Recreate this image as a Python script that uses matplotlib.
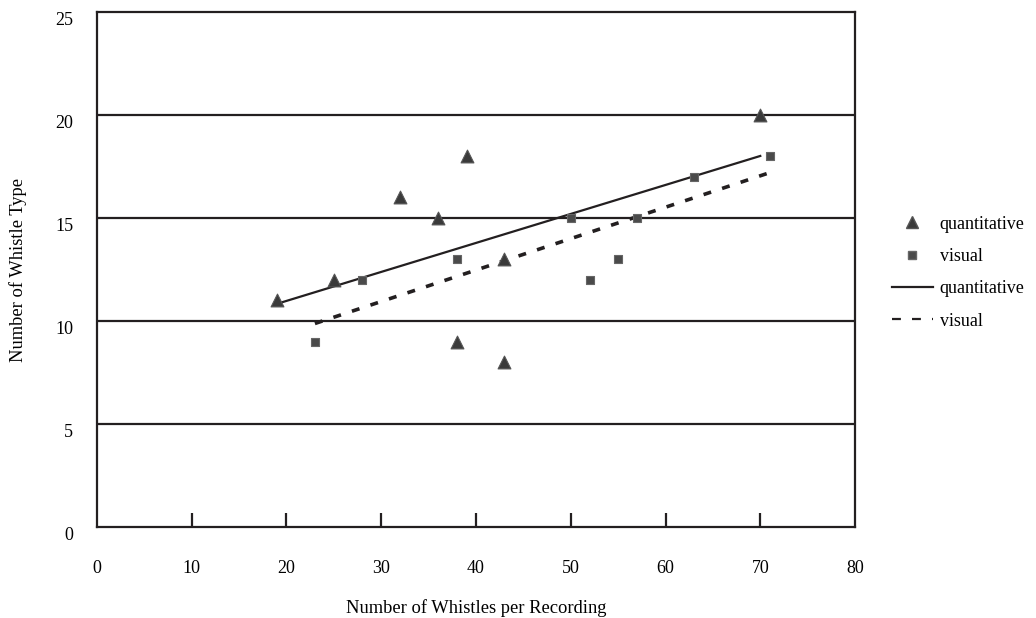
import numpy as np
import matplotlib
matplotlib.use('Agg')
import matplotlib.pyplot as plt
from matplotlib.lines import Line2D

plt.rcParams['font.family'] = ['Liberation Serif', 'DejaVu Serif']

# data
quant_x = [19, 25, 32, 36, 39, 38, 43, 43, 70]
quant_y = [11, 12, 16, 15, 18, 9, 8, 13, 20]
visual_x = [23, 28, 38, 50, 52, 55, 57, 63, 71]
visual_y = [9, 12, 13, 15, 12, 13, 15, 17, 18]

ink = '#231f20'

fig = plt.figure(figsize=(10.36, 6.18), dpi=100)
ax = fig.add_axes([0.0936, 0.1472, 0.7317, 0.8334])

for gy in [5, 10, 15, 20]:
    ax.axhline(gy, color=ink, lw=1.6, zorder=1)

# linear trend lines
qc = np.polyfit(quant_x, quant_y, 1)
vc = np.polyfit(visual_x, visual_y, 1)
qx = np.array([min(quant_x), max(quant_x)])
vx = np.array([min(visual_x), max(visual_x)])
ax.plot(qx, np.polyval(qc, qx), color=ink, lw=1.6, zorder=2)
ax.plot(vx, np.polyval(vc, vx), color=ink, lw=2.6, ls=(0, (2.2, 3.2)), zorder=2)

ax.scatter(quant_x, quant_y, marker='^', s=85, color='#3a3a3a', edgecolor='#555555', lw=0.8, zorder=3)
ax.scatter(visual_x, visual_y, marker='s', s=40, color='#4a4a4a', edgecolor='#666666', lw=0.8, zorder=3)

ax.set_xlim(0, 80)
ax.set_ylim(0, 25)
ax.set_xticks(range(0, 81, 10))
ax.set_yticks(range(0, 26, 5))
for s in ax.spines.values():
    s.set_color(ink)
    s.set_linewidth(1.6)
ax.tick_params(axis='x', direction='in', length=10, width=1.6, color=ink, pad=24, labelsize=13)
ax.tick_params(axis='y', length=0, pad=17, labelsize=13)
# no tick marks at the ends of the x axis
for t in (ax.xaxis.get_major_ticks()[0], ax.xaxis.get_major_ticks()[-1]):
    t.tick1line.set_visible(False)
for lbl in ax.get_yticklabels():
    lbl.set_va('top')

ax.set_xlabel('Number of Whistles per Recording', fontsize=13.3, labelpad=16)
ax.set_ylabel('Number of Whistle Type', fontsize=13.3, labelpad=20)

handles = [
    Line2D([], [], ls='none', marker='^', ms=9, color='#3a3a3a', mec='#555555'),
    Line2D([], [], ls='none', marker='s', ms=6, color='#4a4a4a', mec='#666666'),
    Line2D([], [], color=ink, lw=1.6),
    Line2D([], [], color=ink, lw=1.6, ls=(0, (4, 5))),
]
fig.legend(handles, ['quantitative', 'visual', 'quantitative', 'visual'],
           loc='center left', bbox_to_anchor=(0.845, 0.559), frameon=False,
           fontsize=13, handlelength=2.3, handletextpad=0.35, labelspacing=0.85)

fig.savefig('out.png', dpi=100)
